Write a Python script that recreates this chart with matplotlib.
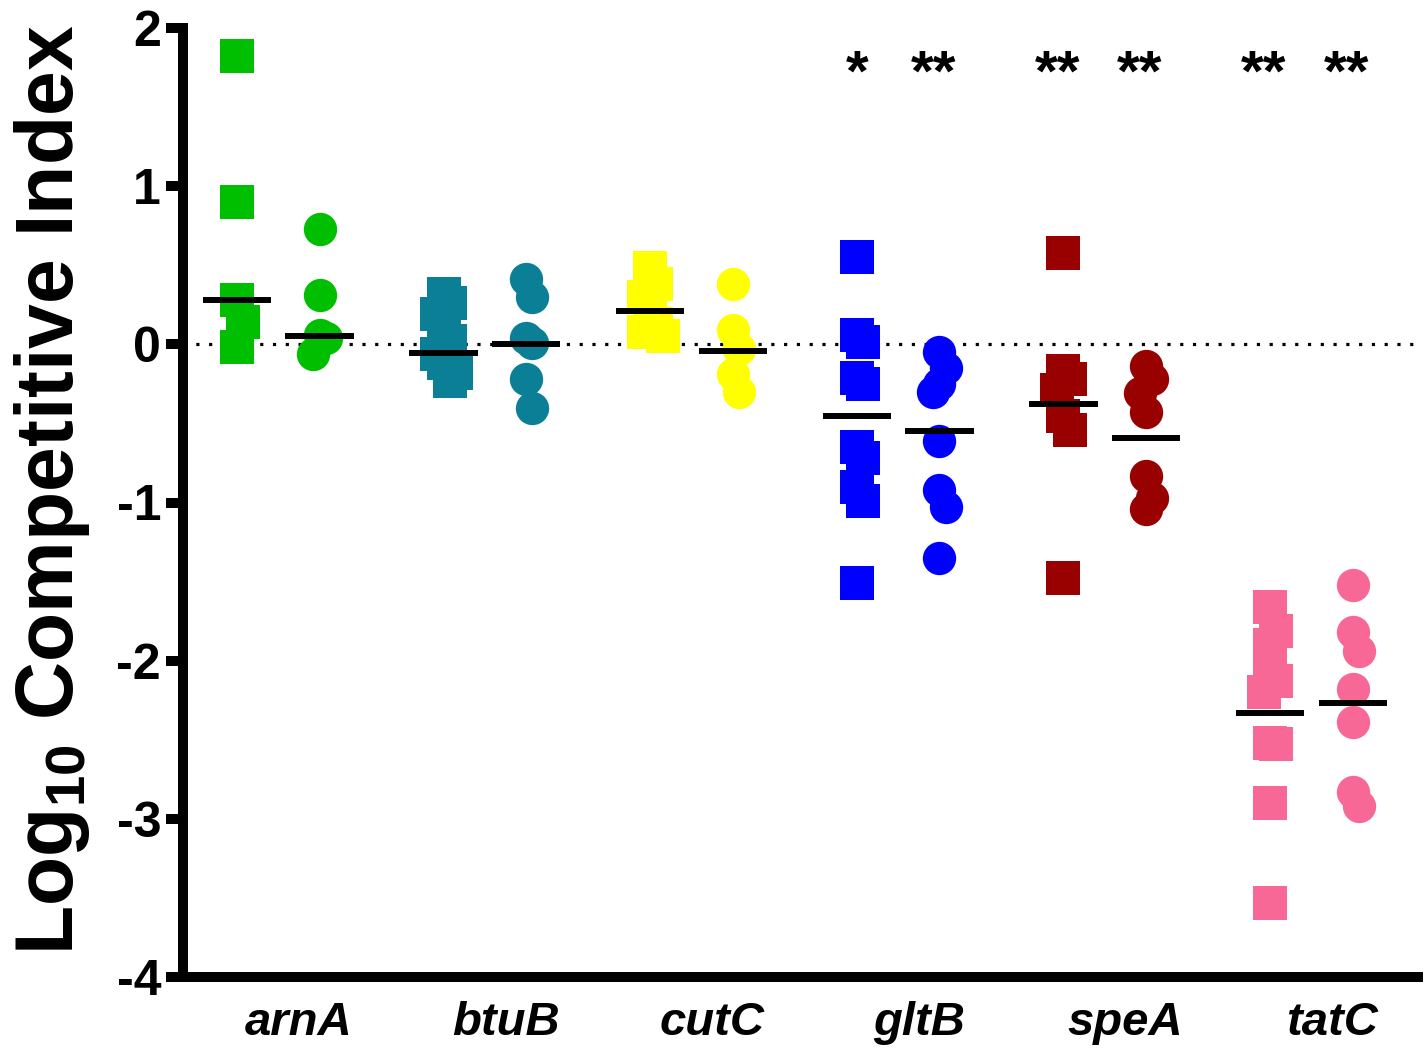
import numpy as np
import matplotlib
matplotlib.use('Agg')
import matplotlib.pyplot as plt

# genes and colours
genes = ['arnA', 'btuB', 'cutC', 'gltB', 'speA', 'tatC']
colors = ['#00BF00', '#0A7F96', '#FFFF00', '#0000FF', '#990000', '#F76896']

# Log10 CI values, squares (first strain) and circles (second strain)
arnA_sq = [1.82, 0.90, 0.28, 0.14, -0.02]
arnA_ci = [0.73, 0.31, 0.06, 0.04, -0.06]
btuB_sq = [0.32, 0.26, 0.19, 0.10, 0.02, -0.06, -0.12, -0.18, -0.23]
btuB_ci = [0.41, 0.30, 0.04, 0.01, -0.22, -0.40]
cutC_sq = [0.48, 0.38, 0.30, 0.20, 0.13, 0.08, 0.05]
cutC_ci = [0.38, 0.09, -0.03, -0.19, -0.30]
gltB_sq = [0.55, 0.06, 0.015, -0.21, -0.25, -0.65, -0.72, -0.90, -0.99, -1.51]
gltB_ci = [-0.05, -0.15, -0.25, -0.30, -0.61, -0.92, -1.03, -1.35]
speA_sq = [0.58, -0.17, -0.22, -0.29, -0.45, -0.54, -1.48]
speA_ci = [-0.14, -0.22, -0.31, -0.43, -0.83, -0.97, -1.04]
tatC_sq = [-1.66, -1.81, -1.90, -2.11, -2.13, -2.20, -2.52, -2.53, -2.90, -3.53]
tatC_ci = [-1.52, -1.82, -1.94, -2.18, -2.39, -2.83, -2.92]

square_vals = [arnA_sq, btuB_sq, cutC_sq, gltB_sq, speA_sq, tatC_sq]
circle_vals = [arnA_ci, btuB_ci, cutC_ci, gltB_ci, speA_ci, tatC_ci]

# mean lines
square_means = [0.28, -0.055, 0.21, -0.45, -0.38, -2.33]
circle_means = [0.05, 0.0, -0.04, -0.55, -0.595, -2.27]

# significance marks
stars_square = ['', '', '', '*', '**', '**']
stars_circle = ['', '', '', '**', '**', '**']

plt.rcParams['font.family'] = ['Liberation Sans', 'DejaVu Sans']
plt.rcParams['font.weight'] = 'bold'
plt.rcParams['mathtext.fontset'] = 'custom'
plt.rcParams['mathtext.rm'] = 'Liberation Sans:bold'
plt.rcParams['mathtext.default'] = 'rm'
plt.rcParams['axes.unicode_minus'] = False


def spread(vals, step=0.03, gap=0.2):
    # simple deterministic horizontal spreading of overlapping points
    pattern = [0, 1, -1, 2, -2, 3, -3, 4, -4]
    placed = []
    offs = []
    for v in vals:
        for p in pattern:
            if not any(po == p and abs(pv - v) < gap for pv, po in placed):
                break
        placed.append((v, p))
        offs.append(p * step)
    return np.array(offs)


fig = plt.figure(figsize=(14.25, 10.49), dpi=100)
ax = fig.add_axes([183 / 1425, 1 - 977 / 1049, (1418 - 183) / 1425, (977 - 28) / 1049])

half = 0.165
for i, gene in enumerate(genes):
    xs = i - 0.2
    xc = i + 0.2
    ax.plot(xs + spread(square_vals[i]), square_vals[i], 's', ms=23.8,
            color=colors[i], mew=0, zorder=3)
    ax.plot(xc + spread(circle_vals[i]), circle_vals[i], 'o', ms=24,
            color=colors[i], mew=0, zorder=3)
    ax.hlines(square_means[i], xs - half, xs + half, color='black', lw=4.3, zorder=4)
    ax.hlines(circle_means[i], xc - half, xc + half, color='black', lw=4.3, zorder=4)
    # double stars sit a little left of the column in the original
    for x, s in [(xs, stars_square[i]), (xc, stars_circle[i])]:
        dx = -0.03 if len(s) == 2 else 0
        ax.text(x + dx, 1.70, s, ha='center', va='center', fontsize=42, fontweight='bold')

ax.axhline(0, color='black', ls=(0, (1, 3)), lw=2.3, zorder=1)

ax.set_xlim(-0.461, 5.516)
ax.set_ylim(-4, 2)
ax.set_yticks(range(-4, 3))
ax.set_xticks(np.arange(len(genes)) + 0.1)
ax.set_xticklabels(genes, fontsize=34, fontweight='bold', style='italic')

for s in ['top', 'right']:
    ax.spines[s].set_visible(False)
for s in ['left', 'bottom']:
    ax.spines[s].set_linewidth(7.2)

ax.tick_params(axis='y', length=12.2, width=7.2, pad=3.6, labelsize=36)
ax.tick_params(axis='x', length=0, pad=17)

ax.set_ylabel('Log$_{10}$ Competitive Index', fontsize=58, fontweight='bold')
ax.yaxis.set_label_coords(-0.074, 0.513)

fig.savefig('out.png', dpi=100)
